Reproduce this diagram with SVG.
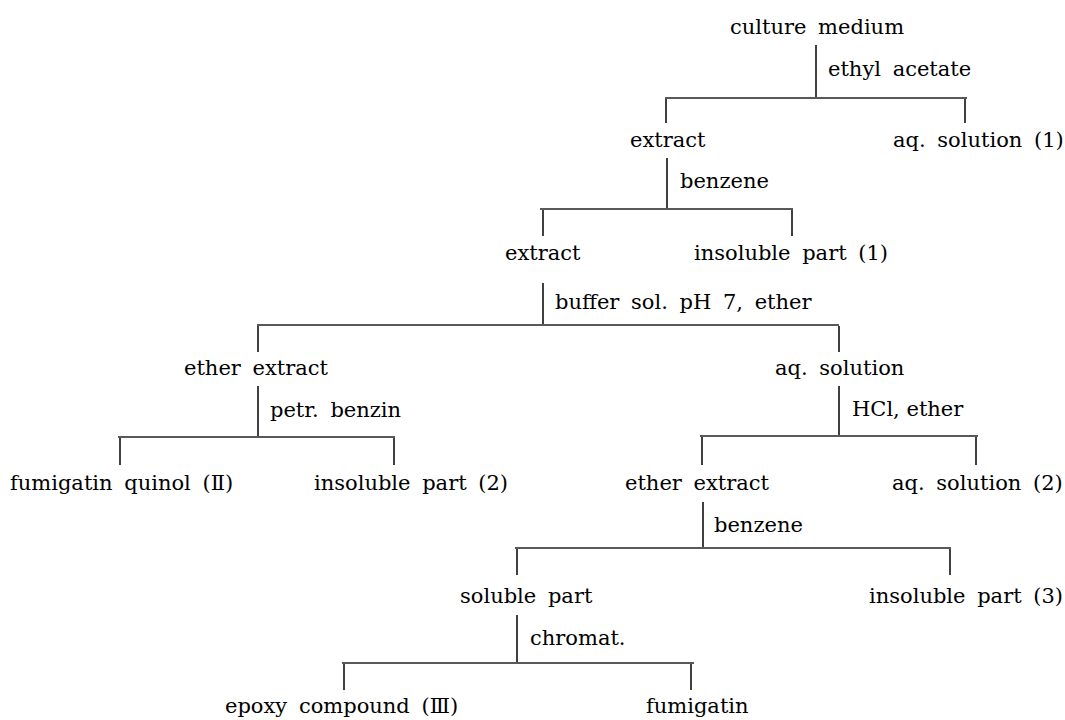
<svg xmlns="http://www.w3.org/2000/svg" width="1065" height="720" viewBox="0 0 1065 720">
<style>
text{font-family:"DejaVu Serif","Liberation Serif","Noto Sans CJK JP",serif;font-size:21px;fill:#000;word-spacing:5px}
text.n{word-spacing:0}
.c line{stroke:#000;stroke-width:1.5}
.c line.h{stroke:#222;stroke-width:1.3}
</style>
<rect width="1065" height="720" fill="#fff"/>
<g class="c" id="connectors">
<line x1="816" y1="45" x2="816" y2="97"/>
<line class="h" x1="665" y1="98" x2="967" y2="98"/>
<line x1="666" y1="99" x2="666" y2="123"/>
<line x1="965" y1="99" x2="965" y2="123"/>
<line x1="667" y1="158" x2="667" y2="208"/>
<line class="h" x1="540" y1="209" x2="793" y2="209"/>
<line x1="543" y1="210" x2="543" y2="236"/>
<line x1="792" y1="210" x2="792" y2="236"/>
<line x1="543" y1="283" x2="543" y2="324"/>
<line class="h" x1="257" y1="325" x2="839" y2="325"/>
<line x1="258" y1="326" x2="258" y2="352"/>
<line x1="839" y1="326" x2="839" y2="352"/>
<line x1="258" y1="386" x2="258" y2="436"/>
<line class="h" x1="118" y1="437" x2="395" y2="437"/>
<line x1="120" y1="438" x2="120" y2="465"/>
<line x1="394" y1="438" x2="394" y2="465"/>
<line x1="839" y1="386" x2="839" y2="435"/>
<line class="h" x1="700" y1="436" x2="978" y2="436"/>
<line x1="702" y1="437" x2="702" y2="465"/>
<line x1="976" y1="437" x2="976" y2="465"/>
<line x1="703" y1="502" x2="703" y2="547"/>
<line class="h" x1="515" y1="548" x2="951" y2="548"/>
<line x1="517" y1="549" x2="517" y2="575"/>
<line x1="950" y1="549" x2="950" y2="575"/>
<line x1="517" y1="615" x2="517" y2="662"/>
<line class="h" x1="342" y1="663" x2="694" y2="663"/>
<line x1="344" y1="664" x2="344" y2="690"/>
<line x1="691" y1="664" x2="691" y2="690"/>
<text x="828" y="76">ethyl acetate</text>
<text x="680" y="188">benzene</text>
<text x="555" y="309">buffer sol. pH 7, ether</text>
<text x="270" y="417">petr. benzin</text>
<text class="n" x="852" y="416">HCl, ether</text>
<text x="714" y="532">benzene</text>
<text x="530" y="645">chromat.</text>
</g>
<g id="n-culture"><text x="730" y="34">culture medium</text></g>
<g id="n-extract1"><text x="630" y="147">extract</text></g>
<g id="n-aq1"><text x="893" y="147">aq. solution (1)</text></g>
<g id="n-extract2"><text x="505" y="260">extract</text></g>
<g id="n-insol1"><text x="694" y="260">insoluble part (1)</text></g>
<g id="n-ether1"><text x="184" y="375">ether extract</text></g>
<g id="n-aq"><text x="775" y="375">aq. solution</text></g>
<g id="n-quinol"><text x="10" y="490">fumigatin quinol (Ⅱ)</text></g>
<g id="n-insol2"><text x="314" y="490">insoluble part (2)</text></g>
<g id="n-ether2"><text x="625" y="490">ether extract</text></g>
<g id="n-aq2"><text x="892" y="490">aq. solution (2)</text></g>
<g id="n-soluble"><text x="460" y="603">soluble part</text></g>
<g id="n-insol3"><text x="869" y="603">insoluble part (3)</text></g>
<g id="n-epoxy"><text x="225" y="713">epoxy compound (Ⅲ)</text></g>
<g id="n-fumigatin"><text x="646" y="713">fumigatin</text></g>
</svg>
